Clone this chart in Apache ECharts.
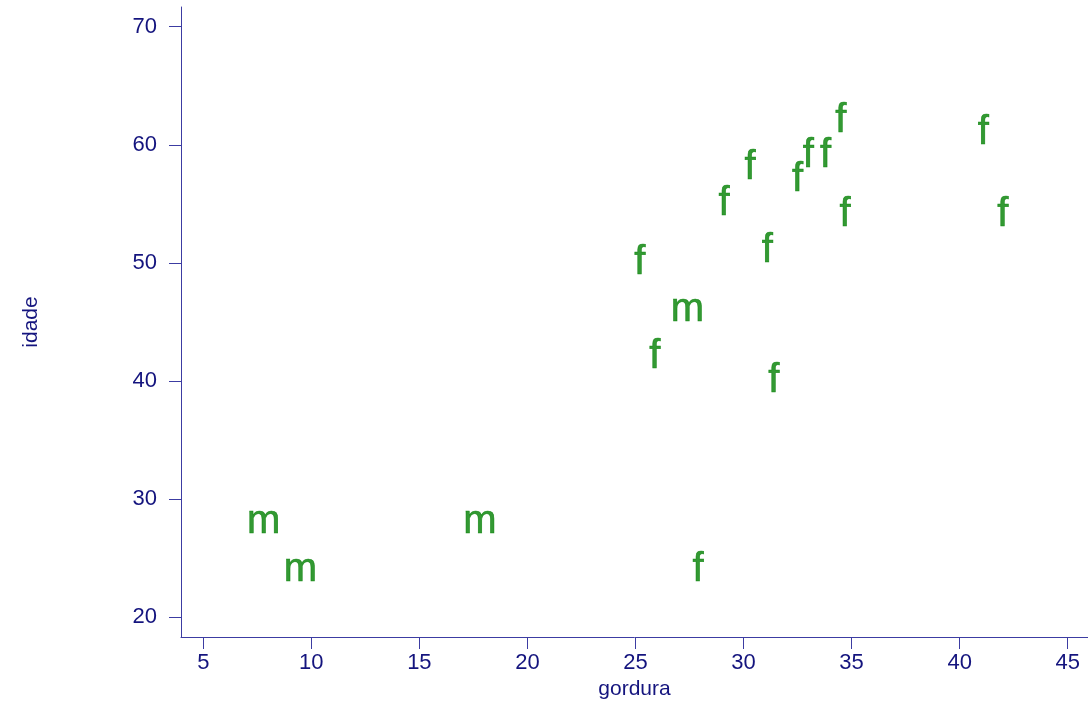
<!DOCTYPE html>
<html>
<head>
<meta charset="utf-8">
<script src="https://cdn.jsdelivr.net/npm/echarts@6/dist/echarts.min.js"></script>
<style>
  html, body { margin: 0; padding: 0; background: #fff; }
  #box { width: 1088px; height: 701px; }
</style>
</head>
<body>
<div id="box"></div>
<script>
// body fat vs age, labelled by sex
var gordura = [9.5, 27.9, 7.8, 17.8, 31.4, 25.9, 27.4, 25.2, 31.1, 34.7, 42.0, 29.1, 32.5, 30.3, 33.0, 33.8, 41.1, 34.5];
var idade = [23, 23, 27, 27, 39, 41, 45, 49, 50, 53, 53, 54, 56, 57, 58, 58, 60, 61];
var sexo = ['m', 'f', 'm', 'm', 'f', 'f', 'm', 'f', 'f', 'f', 'f', 'f', 'f', 'f', 'f', 'f', 'f', 'f'];
var xTicks = [5, 10, 15, 20, 25, 30, 35, 40, 45];
var yTicks = [20, 30, 40, 50, 60, 70];

var pts = [];
for (var i = 0; i < idade.length; i++) {
  pts.push([gordura[i], idade[i], sexo[i]]);
}

var axisCol = '#3c3ca2';
var textCol = '#14147e';
var green = '#007f00';
var font = 'Liberation Sans, Arial, sans-serif';

var myChart = echarts.init(document.getElementById('box'));
var option = {
  animation: false,
  grid: { left: 181, right: 0, top: 7, bottom: 64, outerBoundsMode: 'none', containLabel: false },
  xAxis: {
    type: 'value',
    min: 3.97,
    max: 45.94,
    name: 'gordura',
    nameLocation: 'middle',
    nameGap: 42,
    nameTextStyle: { color: textCol, fontSize: 21, fontFamily: font },
    splitLine: { show: false },
    axisLine: { show: true, lineStyle: { color: axisCol, width: 1 } },
    axisTick: { show: true, length: 12, customValues: xTicks, lineStyle: { color: axisCol } },
    axisLabel: { customValues: xTicks, margin: 15, color: textCol, fontSize: 22, fontFamily: font }
  },
  yAxis: {
    type: 'value',
    min: 18.3,
    max: 71.67,
    name: 'idade',
    nameLocation: 'middle',
    nameGap: 139,
    nameRotate: 90,
    nameTextStyle: { color: textCol, fontSize: 21, fontFamily: font },
    splitLine: { show: false },
    axisLine: { show: true, lineStyle: { color: axisCol, width: 1 } },
    axisTick: { show: true, length: 12, customValues: yTicks, lineStyle: { color: axisCol } },
    axisLabel: { customValues: yTicks, margin: 24, color: textCol, fontSize: 22, fontFamily: font }
  },
  series: [{
    type: 'scatter',
    data: pts,
    symbolSize: 1,
    itemStyle: { color: 'rgba(0,0,0,0)' },
    label: {
      show: true,
      position: 'inside',
      formatter: function (p) { return p.value[2]; },
      color: green,
      textBorderColor: green,
      textBorderWidth: 0.6,
      fontSize: 40,
      fontFamily: font,
      offset: [0, -12]
    }
  }]
};
myChart.setOption(option);
</script>
</body>
</html>
